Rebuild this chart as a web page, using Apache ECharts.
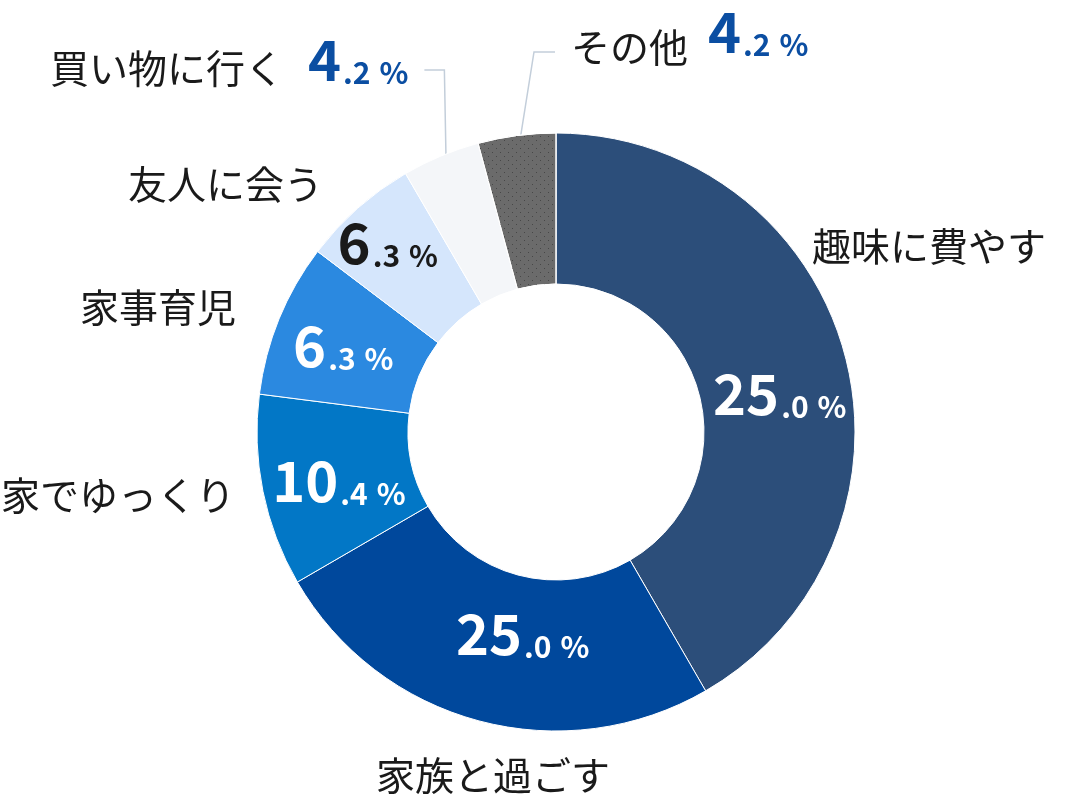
<!DOCTYPE html>
<html>
	<head>
		<meta charset="utf-8">
		<title>休日の過ごし方</title>
		<style>
			html,body{margin:0;padding:0;background:#fff;}
			#pieChart{width:1092px;height:804px;}
		</style>
	</head>
	<body>
		<div id="pieChart"></div>
		<script src="https://cdn.jsdelivr.net/npm/echarts@6/dist/echarts.min.js" type="text/javascript" charset="utf-8"></script>
		<script type="text/javascript">
			var categories = ['趣味に費やす','家族と過ごす','家でゆっくり','家事育児','友人に会う','買い物に行く','その他'];
			// 扇形の大きさ(%) 図から読み取り
			var sliceShare = [41.7, 25.0, 10.4, 8.3, 6.3, 4.2, 4.2];
			// 図に印字されている数値
			var shownPct = ['25.0','25.0','10.4','6.3','6.3','4.2','4.2'];

			var sliceColors = ['#2c4e7a','#00489c','#0277c6','#2b89e0','#d5e6fc','#f4f6f9','#6b6b6b'];
			var pctInk = ['#fff','#fff','#fff','#fff','#1a1a1a','#0b4ea2','#0b4ea2'];
			var font = '"Noto Sans CJK JP","Noto Sans",sans-serif';
			var cx = 556, cy = 432, r0 = 148, r1 = 299;
			// 名前ラベル [left, baseline]
			var nameAt = [[812,261],[376,790],[1,510],[80,322],[128,199],[50,83],[571,62]];
			// 内側ラベルの微調整
			var pctNudge = [[5,20],[25,-17],[5,4],[-3,-1],[-18,-20],[0,0],[0,0]];
			var guideY = {5:70, 6:52};

			var total = sliceShare.reduce(function(a,b){return a + b;},0);
			function midAngle(i){
				var sum = 0;
				for(var k = 0; k < i; k++) sum += sliceShare[k];
				return (sum + sliceShare[i] / 2) / total * Math.PI * 2;
			}

			var myChart = echarts.init(document.getElementById('pieChart'));
			var pieData = [], nameData = [];
			for(var i = 0; i < categories.length; i++){
				var item = {
					name: categories[i],
					value: sliceShare[i],
					itemStyle: {color: sliceColors[i]},
					label: {show: i < 5, color: pctInk[i]}
				};
				if(i == 6){
					item.itemStyle.decal = {
						symbol: 'rect',
						symbolSize: 1,
						color: '#474747',
						dashArrayX: [[1,7],[0,4,1,3]],
						dashArrayY: [1,3]
					};
				}
				pieData.push(item);
				nameData.push({
					name: categories[i],
					value: sliceShare[i],
					labelLine: {show: guideY[i] != null}
				});
			}

			var option = {
				animation: false,
				series: [{
					type: 'pie',
					center: [cx, cy],
					radius: [r0, r1],
					startAngle: 90,
					clockwise: true,
					silent: true,
					itemStyle: {borderColor: '#fff', borderWidth: 1},
					label: {
						position: 'inside',
						fontFamily: font,
						fontWeight: 'bold',
						formatter: function(p){
							var parts = shownPct[p.dataIndex].split('.');
							return '{i|' + parts[0] + '}{d|.' + parts[1] + '}{p|%}';
						},
						rich: {
							i: {fontSize: 56, fontWeight: 'bold', fontFamily: font, verticalAlign: 'bottom'},
							d: {fontSize: 30, fontWeight: 'bold', fontFamily: font, verticalAlign: 'bottom', padding: [0,0,0,2]},
							p: {fontSize: 30, fontWeight: 'bold', fontFamily: font, verticalAlign: 'bottom', padding: [0,0,0,9]}
						}
					},
					labelLine: {show: false},
					labelLayout: function(p){
						return {dx: pctNudge[p.dataIndex][0], dy: pctNudge[p.dataIndex][1]};
					},
					data: pieData
				},{
					type: 'pie',
					center: [cx, cy],
					radius: [r0, r1],
					startAngle: 90,
					clockwise: true,
					silent: true,
					avoidLabelOverlap: false,
					itemStyle: {color: 'rgba(0,0,0,0)', borderWidth: 0},
					label: {
						position: 'outside',
						overflow: 'none',
						color: '#1a1a1a',
						fontFamily: font,
						formatter: function(p){
							var i = p.dataIndex;
							var s = '{n|' + categories[i] + '}';
							if(guideY[i] != null){
								var parts = shownPct[i].split('.'), t = i == 6 ? '2' : '1';
								s += '{b' + t + '|' + parts[0] + '}{s' + t + '|.' + parts[1] + '}{q' + t + '|%}';
							}
							return s;
						},
						rich: {
							n: {fontSize: 39, fontFamily: font, color: '#1a1a1a', verticalAlign: 'bottom'},
							b1: {fontSize: 56, fontWeight: 'bold', fontFamily: font, color: '#0b4ea2', verticalAlign: 'bottom', padding: [0,0,0,24]},
							s1: {fontSize: 30, fontWeight: 'bold', fontFamily: font, color: '#0b4ea2', verticalAlign: 'bottom', padding: [0,0,0,2]},
							q1: {fontSize: 30, fontWeight: 'bold', fontFamily: font, color: '#0b4ea2', verticalAlign: 'bottom', padding: [0,0,0,9]},
							b2: {fontSize: 56, fontWeight: 'bold', fontFamily: font, color: '#0b4ea2', verticalAlign: 'bottom', padding: [0,0,7,20]},
							s2: {fontSize: 30, fontWeight: 'bold', fontFamily: font, color: '#0b4ea2', verticalAlign: 'bottom', padding: [0,0,7,2]},
							q2: {fontSize: 30, fontWeight: 'bold', fontFamily: font, color: '#0b4ea2', verticalAlign: 'bottom', padding: [0,0,7,9]}
						}
					},
					labelLine: {
						lineStyle: {color: '#c3ceda', width: 1.5}
					},
					labelLayout: function(p){
						var i = p.dataIndex, at = nameAt[i];
						var res = {x: at[0], y: at[1] + 5, align: 'left', verticalAlign: 'bottom'};
						if(guideY[i] != null){
							var a = midAngle(i);
							var sx = cx + (r1 - 14) * Math.sin(a), sy = cy - (r1 - 14) * Math.cos(a);
							var ex, kx;
							if(i == 5){
								ex = at[0] + p.labelRect.width + 16;
								kx = ex + 20;
							}else{
								ex = at[0] - 16;
								kx = ex - 21;
							}
							res.labelLinePoints = [[sx, sy], [kx, guideY[i]], [ex, guideY[i]]];
						}
						return res;
					},
					data: nameData
				}]
			};
			myChart.setOption(option);
		</script>
	</body>
</html>
